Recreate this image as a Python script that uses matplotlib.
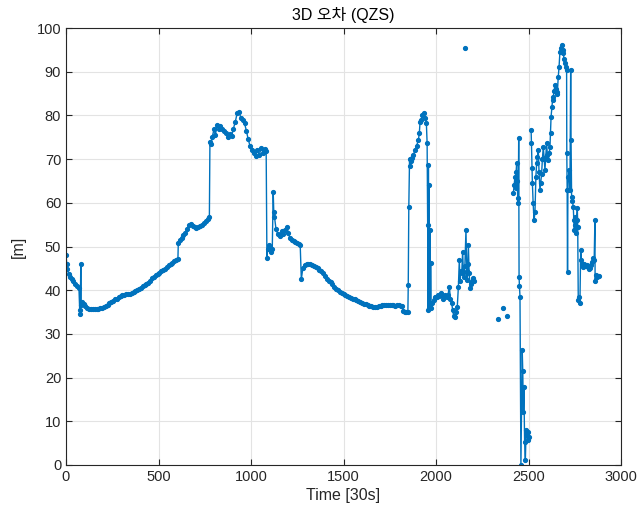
import numpy as np
import matplotlib
matplotlib.use('Agg')
import matplotlib.pyplot as plt

plt.rcParams['font.family'] = ['Liberation Sans', 'Noto Sans CJK KR', 'DejaVu Sans']

# Segment 1: continuous track 0 .. 2205
t_seg1 = [0, 4, 8, 14, 22, 30, 40, 50, 60, 70, 74, 77, 80, 82, 88, 95, 105, 115, 125, 135,
          145, 155, 165, 175, 185, 195, 205, 215, 225, 235, 245, 255, 265, 275, 285, 295,
          305, 315, 325, 335, 345, 355, 365, 375, 385, 395, 405, 415, 425, 435, 445, 455,
          465, 475, 485, 495, 505, 515, 525, 535, 545, 555, 565, 575, 585, 595, 605, 607,
          615, 625, 635, 645, 655, 665, 675, 685, 695, 705, 715, 725, 735, 745, 755, 765,
          775, 778, 785, 790, 800, 808, 815, 825, 835, 845, 855, 865, 875, 885, 895, 905,
          915, 925, 935, 945, 955, 965, 975, 985, 995, 1005, 1015, 1025, 1035, 1045, 1055,
          1065, 1075, 1082, 1086, 1090, 1095, 1100, 1108, 1115, 1120, 1123, 1127, 1135,
          1145, 1155, 1165, 1175, 1185, 1195, 1202, 1210, 1220, 1230, 1240, 1250, 1260,
          1266, 1272, 1280, 1290, 1300, 1310, 1320, 1330, 1340, 1350, 1360, 1370, 1380,
          1390, 1400, 1410, 1420, 1430, 1440, 1450, 1460, 1470, 1480, 1490, 1500, 1510,
          1520, 1530, 1540, 1550, 1560, 1570, 1580, 1590, 1600, 1610, 1620, 1630, 1640,
          1650, 1660, 1670, 1680, 1690, 1700, 1710, 1720, 1730, 1740, 1750, 1760, 1770,
          1780, 1790, 1800, 1810, 1818, 1822, 1830, 1840, 1848, 1850, 1853, 1857, 1860,
          1865, 1870, 1878, 1886, 1895, 1905, 1910, 1914, 1920, 1927, 1935, 1942, 1948,
          1952, 1955, 1957, 1959, 1961, 1963, 1965, 1967, 1969, 1971, 1974, 1980, 1988,
          1995, 2003, 2010, 2018, 2025, 2032, 2040, 2048, 2057, 2065, 2072, 2078, 2085,
          2090, 2096, 2103, 2110, 2115, 2121, 2126, 2130, 2135, 2139, 2144, 2148, 2151,
          2156, 2162, 2166, 2169, 2172, 2175, 2179, 2184, 2190, 2196, 2201, 2205]
e_seg1 = [48.0, 46.0, 44.8, 43.8, 43.0, 42.5, 42.0, 41.5, 41.0, 40.5, 35.5, 34.5, 46.0, 36.5,
          37.2, 36.8, 36.3, 35.9, 35.7, 35.6, 35.8, 35.7, 35.6, 35.8, 36.0, 36.0, 36.1, 36.3,
          36.6, 37.0, 37.3, 37.6, 37.9, 38.1, 38.4, 38.6, 38.8, 38.9, 39.1, 39.1, 39.2, 39.3,
          39.5, 39.8, 40.0, 40.3, 40.6, 41.0, 41.3, 41.5, 41.7, 42.2, 42.8, 43.1, 43.4, 43.7,
          44.0, 44.3, 44.6, 44.9, 45.3, 45.7, 46.0, 46.3, 46.6, 46.9, 47.2, 50.8, 51.5, 52.0,
          52.7, 53.2, 54.0, 55.0, 55.2, 54.7, 54.4, 54.3, 54.5, 54.8, 55.0, 55.4, 55.8, 56.2,
          56.7, 74.0, 73.5, 75.0, 76.8, 75.5, 77.8, 77.0, 77.5, 77.0, 76.5, 76.0, 75.0, 75.8,
          75.2, 77.0, 78.5, 80.5, 80.8, 79.5, 79.0, 78.2, 76.5, 74.5, 73.0, 72.0, 71.5, 70.8,
          72.0, 71.0, 72.5, 71.5, 72.3, 71.8, 47.4, 49.5, 50.3, 49.8, 48.8, 49.5, 62.5, 58.0,
          56.8, 54.0, 52.8, 52.3, 53.5, 52.8, 53.8, 54.5, 53.0, 52.0, 51.5, 51.3, 51.0, 50.8,
          50.5, 50.3, 42.5, 45.0, 45.8, 45.9, 46.0, 45.9, 45.7, 45.5, 45.2, 45.0, 44.7, 44.3,
          44.0, 43.3, 42.5, 42.2, 41.8, 41.4, 40.8, 40.3, 40.0, 39.7, 39.4, 39.1, 38.9, 38.6,
          38.5, 38.3, 38.1, 37.9, 37.7, 37.5, 37.3, 37.1, 36.9, 36.8, 36.6, 36.4, 36.3, 36.2,
          36.1, 36.2, 36.3, 36.4, 36.5, 36.6, 36.5, 36.5, 36.6, 36.5, 36.5, 36.4, 36.5, 36.5,
          36.4, 36.3, 35.2, 35.0, 34.9, 35.0, 41.2, 59.0, 70.0, 68.5, 69.5, 70.2, 71.0, 72.0,
          73.0, 74.4, 76.0, 78.6, 79.0, 80.0, 80.5, 79.5, 78.2, 73.6, 55.0, 35.5, 68.6, 36.0,
          64.0, 37.0, 53.8, 36.5, 46.2, 36.0, 37.0, 37.8, 38.5, 38.5, 39.0, 38.6, 39.3, 38.8,
          38.0, 38.8, 38.5, 39.0, 40.8, 38.0, 37.0, 35.5, 34.0, 33.9, 35.0, 36.2, 40.8, 46.9,
          42.0, 44.5, 43.9, 48.8, 44.0, 43.1, 45.5, 53.8, 44.5, 42.3, 46.0, 50.3, 44.0, 40.4,
          41.5, 42.0, 42.7, 42.0]

# isolated samples
t_single = [2157, 2337, 2360, 2382]
e_single = [95.4, 33.4, 36.0, 34.2]

# Segment 2: 2418 .. 2503
t_seg2 = [2418, 2422, 2427, 2430, 2433, 2436, 2439, 2442, 2445, 2447, 2449, 2451, 2454,
          2459, 2466, 2469, 2472, 2475, 2479, 2483, 2487, 2491, 2495, 2499, 2503]
e_seg2 = [62.2, 64.0, 66.0, 63.5, 67.0, 69.0, 65.0, 61.0, 59.9, 74.8, 43.1, 41.0, 38.5,
          0.0, 26.3, 21.4, 12.2, 17.9, 5.3, 1.1, 8.0, 7.2, 5.8, 7.5, 6.5]

# Segment 3: 2514 .. 2882
t_seg3 = [2514, 2516, 2519, 2521, 2525, 2530, 2535, 2540, 2544, 2548, 2553, 2557, 2562,
          2566, 2571, 2575, 2580, 2585, 2589, 2593, 2598, 2602, 2607, 2612, 2616, 2619,
          2622, 2627, 2630, 2634, 2638, 2643, 2648, 2652, 2656, 2661, 2665, 2670, 2675,
          2680, 2684, 2688, 2692, 2697, 2702, 2706, 2707, 2709, 2711, 2713, 2716, 2720,
          2724, 2728, 2730, 2733, 2737, 2742, 2745, 2748, 2751, 2754, 2757, 2760, 2764,
          2766, 2769, 2773, 2778, 2782, 2786, 2791, 2796, 2802, 2808, 2814, 2820, 2826,
          2832, 2838, 2844, 2850, 2855, 2859, 2860, 2864, 2868, 2874, 2882]
e_seg3 = [76.7, 73.6, 68.0, 64.5, 60.0, 56.0, 57.9, 66.0, 69.0, 70.5, 72.0, 67.0, 62.9,
          64.5, 66.7, 70.0, 72.8, 70.0, 67.5, 70.5, 73.6, 71.0, 69.8, 71.5, 72.8, 76.0,
          79.7, 82.0, 83.5, 84.3, 85.5, 87.0, 86.0, 85.0, 85.4, 88.9, 91.0, 94.6, 95.5,
          96.1, 95.0, 94.2, 93.0, 91.9, 91.0, 90.4, 71.3, 62.9, 44.2, 63.0, 66.0, 67.5,
          62.9, 90.5, 74.4, 61.4, 60.5, 59.1, 56.0, 53.8, 56.8, 55.0, 53.0, 56.0, 58.7,
          54.5, 37.8, 38.5, 37.0, 49.2, 47.0, 46.0, 45.4, 46.0, 45.5, 45.8, 45.2, 44.8,
          45.0, 45.8, 46.5, 47.3, 47.0, 56.0, 42.0, 43.5, 43.1, 43.3, 43.2]

# join segments, NaN breaks the line between them
t_all, e_all = [], []
for ts, es in [(t_seg1, e_seg1)] + [([t], [e]) for t, e in zip(t_single, e_single)] + \
        [(t_seg2, e_seg2), (t_seg3, e_seg3)]:
    t_all += list(ts) + [np.nan]
    e_all += list(es) + [np.nan]
t_all = np.array(t_all, dtype=float)
e_all = np.array(e_all, dtype=float)

fig = plt.figure(figsize=(6.44, 5.28), dpi=100)
ax = fig.add_axes([66 / 644, 1 - 465 / 528, 555 / 644, 437 / 528])

ax.plot(t_all, e_all, '.-', color='#0072BD', lw=1.0, ms=5.5)

ax.set_xlim(0, 3000)
ax.set_ylim(0, 100)
ax.set_xticks(np.arange(0, 3001, 500))
ax.set_yticks(np.arange(0, 101, 10))
ax.grid(True, color='#e3e3e3', lw=0.8)
ax.set_axisbelow(True)
ax.tick_params(direction='in', top=True, right=True, labelsize=10.5, colors='#262626',
               length=4)
for s in ax.spines.values():
    s.set_color('#262626')
    s.set_linewidth(0.8)

ax.set_title('3D 오차 (QZS)', fontsize=11.5, color='#000000', pad=6)
ax.set_xlabel('Time [30s]', fontsize=11.5, color='#262626', labelpad=3)
ax.set_ylabel('[m]', fontsize=11.5, color='#262626', labelpad=8)

fig.savefig('out.png', dpi=100)
